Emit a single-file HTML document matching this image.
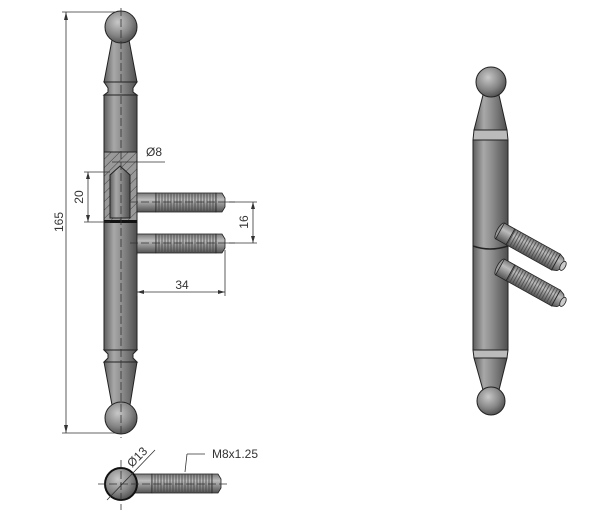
<!DOCTYPE html>
<html><head><meta charset="utf-8"><style>
html,body{margin:0;padding:0;background:#fff;width:600px;height:515px;overflow:hidden}
svg{display:block}
text{font-family:"Liberation Sans",sans-serif;font-size:12px;fill:#333}
</style></head><body>
<svg width="600" height="515" viewBox="0 0 600 515" xmlns="http://www.w3.org/2000/svg">
<defs>
<linearGradient id="h" x1="0" x2="1" y1="0" y2="0">
<stop offset="0" stop-color="#5e5e5e"/><stop offset="0.3" stop-color="#a8a8a8"/><stop offset="0.55" stop-color="#8c8c8c"/><stop offset="1" stop-color="#4e4e4e"/></linearGradient>
<linearGradient id="v" x1="0" x2="0" y1="0" y2="1">
<stop offset="0" stop-color="#7a7a7a"/><stop offset="0.35" stop-color="#bcbcbc"/><stop offset="1" stop-color="#525252"/></linearGradient>
<radialGradient id="b" cx="0.4" cy="0.35" r="0.7">
<stop offset="0" stop-color="#c8c8c8"/><stop offset="0.6" stop-color="#858585"/><stop offset="1" stop-color="#4a4a4a"/></radialGradient>
<pattern id="hat" width="6" height="6" patternUnits="userSpaceOnUse" patternTransform="rotate(45)">
<rect width="6" height="6" fill="#999"/><line x1="0" y1="0" x2="0" y2="6" stroke="#444" stroke-width="1"/></pattern>
<pattern id="thr" width="3" height="20" patternUnits="userSpaceOnUse">
<rect width="3" height="20" fill="none"/><line x1="1" y1="0" x2="1" y2="20" stroke="#444" stroke-width="0.8"/></pattern>
<g id="pin">
<rect x="0" y="0" width="19" height="19" fill="url(#v)" stroke="#222" stroke-width="0.8"/>
<rect x="19" y="0" width="60" height="19" fill="url(#v)" stroke="#222" stroke-width="0.8"/>
<rect x="19" y="0" width="60" height="19" fill="url(#thr)"/>
<path d="M79 0 L85 0 L88 5 L88 14 L85 19 L79 19 Z" fill="url(#v)" stroke="#222" stroke-width="0.8"/>
</g>
<g id="pinr">
<ellipse cx="0" cy="0" rx="3" ry="9" fill="#999" stroke="#222" stroke-width="0.8"/>
<rect x="0" y="-9" width="12" height="18" fill="url(#v)" stroke="#222" stroke-width="0.8"/>
<rect x="12" y="-9" width="52" height="18" fill="url(#v)" stroke="#222" stroke-width="0.8"/>
<rect x="12" y="-9" width="52" height="18" fill="url(#thr)"/>
<path d="M64 -9 L69 -7 L72 -3 L72 3 L69 7 L64 9 Z" fill="url(#v)" stroke="#222" stroke-width="0.8"/>
<ellipse cx="72" cy="0" rx="2.5" ry="5" fill="#ccc" stroke="#222" stroke-width="0.8"/>
</g>
</defs>

<!-- LEFT FRONT VIEW -->
<g stroke="#222" stroke-width="1">
<rect x="104" y="95" width="33" height="255" fill="url(#h)"/>
<path d="M112 40 L129 40 L137 82 L104 82 Z" fill="url(#h)"/>
<path d="M104 82 L137 82 L133 88 L133 92 L137 95 L104 95 L108 92 L108 88 Z" fill="url(#h)"/>
<circle cx="121" cy="27" r="16" fill="url(#b)"/>
<path d="M104 350 L137 350 L133 354 L133 358 L137 362 L104 362 L108 358 L108 354 Z" fill="url(#h)"/>
<path d="M104 362 L137 362 L130 405 L112 405 Z" fill="url(#h)"/>
<circle cx="121" cy="418" r="16" fill="url(#b)"/>
<rect x="104" y="152" width="33" height="70" fill="url(#hat)"/>
<path d="M110 218 L110 175 L120 166 L130 175 L130 218 Z" fill="url(#h)"/>
</g>
<rect x="104" y="220" width="33" height="3" fill="#111"/>
<use href="#pin" x="137" y="193"/>
<use href="#pin" x="137" y="234"/>
<g stroke="#333" stroke-width="0.8" stroke-dasharray="8,3" fill="none">
<line x1="121" y1="8" x2="121" y2="438"/>
<line x1="130" y1="202" x2="235" y2="202"/>
<line x1="130" y1="243" x2="235" y2="243"/>
</g>
<g stroke="#333" stroke-width="0.8" fill="none">
<line x1="62" y1="12" x2="115" y2="12"/><line x1="62" y1="433" x2="115" y2="433"/>
<line x1="66" y1="12" x2="66" y2="433"/>
<line x1="84" y1="172" x2="110" y2="172"/><line x1="84" y1="222" x2="110" y2="222"/>
<line x1="88" y1="172" x2="88" y2="222"/>
<line x1="226" y1="202" x2="257" y2="202"/><line x1="226" y1="243" x2="257" y2="243"/>
<line x1="253" y1="202" x2="253" y2="243"/>
<line x1="137" y1="255" x2="137" y2="296"/><line x1="225" y1="250" x2="225" y2="296"/>
<line x1="137" y1="292" x2="225" y2="292"/>
<line x1="112" y1="162" x2="165" y2="162"/>
</g>
<g fill="#333">
<path d="M66 12 l-2 8 h4z"/><path d="M66 433 l-2 -8 h4z"/>
<path d="M88 172 l-2 7 h4z"/><path d="M88 222 l-2 -7 h4z"/>
<path d="M253 202 l-2 7 h4z"/><path d="M253 243 l-2 -7 h4z"/>
<path d="M137 292 l7 -2 v4z"/><path d="M225 292 l-7 -2 v4z"/>
</g>
<text x="63" y="222" transform="rotate(-90 63 222)" text-anchor="middle">165</text>
<text x="83" y="197" transform="rotate(-90 83 197)" text-anchor="middle">20</text>
<text x="248" y="222" transform="rotate(-90 248 222)" text-anchor="middle">16</text>
<text x="182" y="289" text-anchor="middle">34</text>
<text x="146" y="156">Ø8</text>

<!-- BOTTOM VIEW -->
<use href="#pin" x="133" y="474"/>
<circle cx="121" cy="484" r="16" fill="url(#b)" stroke="#111" stroke-width="2"/>
<g stroke="#333" stroke-width="0.8" fill="none">
<line x1="98" y1="484" x2="230" y2="484" stroke-dasharray="8,3"/>
<line x1="121" y1="460" x2="121" y2="510" stroke-dasharray="8,3"/>
<line x1="107" y1="500" x2="155" y2="450"/>
<path d="M187 454 L205 454"/><path d="M187 454 L185 472"/>
</g>
<text x="0" y="0" transform="translate(132 468) rotate(-45)">Ø13</text>
<text x="212" y="458">M8x1.25</text>

<!-- RIGHT ISO -->
<g stroke="#222" stroke-width="1">
<rect x="473" y="140" width="35" height="210" fill="url(#h)"/>
<path d="M483 95 L499 95 L507 130 L474 130 Z" fill="url(#h)"/>
<path d="M474 130 L507 130 L508 140 L473 140 Z" fill="#bbb"/>
<circle cx="491" cy="82" r="15" fill="url(#b)"/>
<path d="M473 350 L508 350 L507 358 L474 358 Z" fill="#bbb"/>
<path d="M474 358 L507 358 L499 390 L483 390 Z" fill="url(#h)"/>
<circle cx="491" cy="401" r="14" fill="url(#b)"/>
<path d="M473 246 Q490 252 508 246" fill="none" stroke-width="1.5"/>
</g>
<use href="#pinr" transform="translate(500 231) rotate(29)"/>
<use href="#pinr" transform="translate(500 267) rotate(29)"/>
</svg>
</body></html>
